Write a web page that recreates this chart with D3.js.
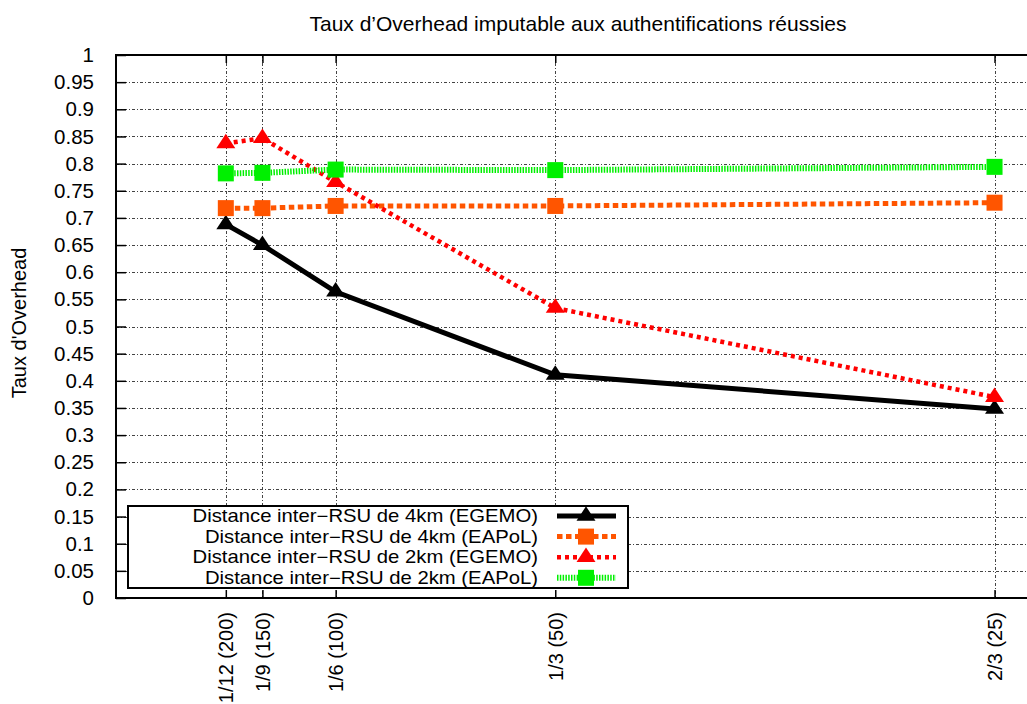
<!DOCTYPE html>
<html>
<head>
<meta charset="utf-8">
<script src="https://cdn.jsdelivr.net/npm/d3@7"></script>
<style>
  html, body { margin: 0; padding: 0; background: #fff; }
  svg { display: block; font-family: "Liberation Sans", Arial, Helvetica, sans-serif; }
</style>
</head>
<body>
<svg id="chart" width="1027" height="704"></svg>
<script>
// Ratio on the x axis (with the number of RSU in brackets)
const xValues = [1/12, 1/9, 1/6, 1/3, 2/3];
const xLabels = ["1/12 (200)", "1/9 (150)", "1/6 (100)", "1/3 (50)", "2/3 (25)"];

// Overhead rate for each configuration
const egemo4km = [0.688, 0.650, 0.564, 0.411, 0.348];
const eapol4km = [0.718, 0.718, 0.722, 0.722, 0.728];
const egemo2km = [0.837, 0.847, 0.766, 0.534, 0.370];
const eapol2km = [0.782, 0.783, 0.789, 0.788, 0.794];

const seriesNames = [
  "Distance inter\u2212RSU de 4km (EGEMO)",
  "Distance inter\u2212RSU de 4km (EAPoL)",
  "Distance inter\u2212RSU de 2km (EGEMO)",
  "Distance inter\u2212RSU de 2km (EAPoL)"
];

const yTicks = d3.range(0, 21).map(i => +(i * 0.05).toFixed(2));

const titleText = "Taux d\u2019Overhead imputable aux authentifications r\u00e9ussies";
const yTitle = "Taux d'Overhead";

const series = [
  { name: seriesNames[0], values: egemo4km, color: "#000000", width: 5, dash: null, marker: "triangle" },
  { name: seriesNames[1], values: eapol4km, color: "#ff5500", width: 5, dash: "5.5,3.5", marker: "square" },
  { name: seriesNames[2], values: egemo2km, color: "#ff0000", width: 4.5, dash: "4,4", marker: "triangle" },
  { name: seriesNames[3], values: eapol2km, color: "#00f000", width: 6, dash: "1.5,1.3", marker: "square" }
];

const svg = d3.select("#chart");
const plot = { left: 116, top: 55, bottom: 598 };

const x = d3.scaleLinear().domain([0, 0.7]).range([plot.left, plot.left + 0.7 * 1317.8]);
const y = d3.scaleLinear().domain([0, 1]).range([plot.bottom, plot.top]);
const plotRight = x(0.7);

// grid
const grid = svg.append("g").attr("stroke", "#444").attr("stroke-width", 1)
  .attr("stroke-dasharray", "3,2,1,2").attr("fill", "none");
yTicks.filter(v => v > 0 && v < 1).forEach(v => {
  grid.append("line").attr("x1", plot.left).attr("x2", plotRight)
    .attr("y1", Math.round(y(v)) + 0.5).attr("y2", Math.round(y(v)) + 0.5);
});
xValues.forEach(v => {
  grid.append("line").attr("x1", Math.round(x(v)) + 0.5).attr("x2", Math.round(x(v)) + 0.5)
    .attr("y1", plot.top).attr("y2", plot.bottom);
});

// y axis ticks (inward) and labels
const yAxis = d3.axisLeft(y).tickValues(yTicks).tickSize(-10).tickPadding(22)
  .tickFormat(d => d3.format("")(d));
const gy = svg.append("g").attr("transform", `translate(${plot.left},0)`).call(yAxis);
gy.select(".domain").remove();
gy.selectAll(".tick line").attr("stroke", "#000").attr("stroke-width", 1.5);
gy.selectAll(".tick text").attr("font-size", 20.5).attr("fill", "#000")
  .attr("font-family", "'Liberation Sans', Arial, sans-serif");

// x axis ticks (inward) and rotated labels
const xAxis = d3.axisBottom(x).tickValues(xValues).tickSize(-8).tickFormat((d, i) => xLabels[i]);
const gx = svg.append("g").attr("transform", `translate(0,${plot.bottom})`).call(xAxis);
gx.select(".domain").remove();
gx.selectAll(".tick line").attr("stroke", "#000").attr("stroke-width", 1.5);
gx.selectAll(".tick text")
  .attr("font-size", 20).attr("fill", "#000")
  .attr("font-family", "'Liberation Sans', Arial, sans-serif")
  .attr("transform", "rotate(-90)")
  .attr("text-anchor", "end")
  .attr("x", -14).attr("y", 0).attr("dy", "0.35em");

// top mirror ticks
const xTop = d3.axisTop(x).tickValues(xValues).tickSize(-8).tickFormat("");
const gt = svg.append("g").attr("transform", `translate(0,${plot.top})`).call(xTop);
gt.select(".domain").remove();
gt.selectAll(".tick line").attr("stroke", "#000").attr("stroke-width", 1.5);

// frame
svg.append("rect").attr("x", plot.left).attr("y", plot.top)
  .attr("width", plotRight - plot.left).attr("height", plot.bottom - plot.top)
  .attr("fill", "none").attr("stroke", "#000").attr("stroke-width", 2);

// markers
function drawMarker(g, type, cx, cy, color) {
  if (type === "square") {
    g.append("rect").attr("x", cx - 8).attr("y", cy - 8).attr("width", 16).attr("height", 16)
      .attr("fill", color);
  } else {
    const s = 9.5, h = 14.5;
    g.append("path")
      .attr("d", `M${cx},${cy - h * 2 / 3}L${cx + s},${cy + h / 3}L${cx - s},${cy + h / 3}Z`)
      .attr("fill", color);
  }
}

const line = d3.line().x((d, i) => x(xValues[i])).y(d => y(d));

series.forEach(s => {
  const g = svg.append("g");
  g.append("path").datum(s.values).attr("d", line)
    .attr("fill", "none").attr("stroke", s.color).attr("stroke-width", s.width)
    .attr("stroke-dasharray", s.dash).attr("stroke-linejoin", "miter");
  s.values.forEach((v, i) => drawMarker(g, s.marker, x(xValues[i]), y(v), s.color));
});

// legend (text slightly widened so the rows stay compact)
const leg = svg.append("g");
leg.append("rect").attr("x", 128).attr("y", 506).attr("width", 500).attr("height", 82)
  .attr("fill", "#fff").attr("stroke", "#000").attr("stroke-width", 2);
series.forEach((s, i) => {
  const cy = 516 + i * 20.6;
  leg.append("text").attr("transform", `translate(538,${cy}) scale(1.14,1)`)
    .attr("dy", "0.35em")
    .attr("text-anchor", "end").attr("font-size", 17.8).attr("fill", "#000").text(s.name);
  leg.append("line").attr("x1", 557).attr("x2", 616).attr("y1", cy).attr("y2", cy)
    .attr("stroke", s.color).attr("stroke-width", s.width).attr("stroke-dasharray", s.dash);
  drawMarker(leg, s.marker, 586, cy, s.color);
});

// titles
svg.append("text").attr("x", 578).attr("y", 31).attr("text-anchor", "middle")
  .attr("font-size", 21).attr("fill", "#000").text(titleText);
svg.append("text").attr("transform", "translate(26,323) rotate(-90)")
  .attr("text-anchor", "middle").attr("font-size", 20).attr("fill", "#000").text(yTitle);
</script>
</body>
</html>
